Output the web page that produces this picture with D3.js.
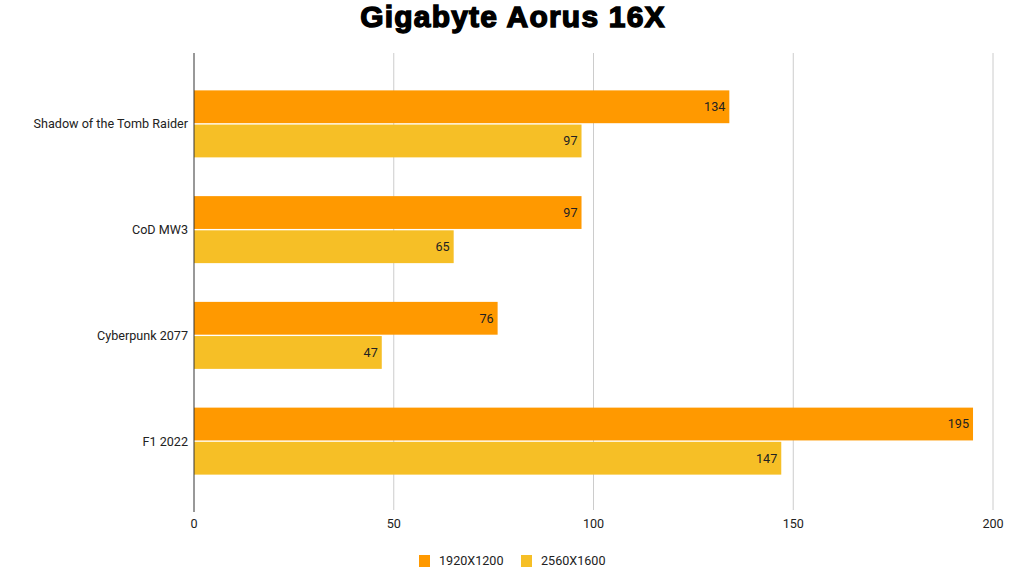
<!DOCTYPE html>
<html>
<head>
<meta charset="utf-8">
<script src="https://cdn.jsdelivr.net/npm/d3@7"></script>
<style>
  html, body { margin: 0; padding: 0; background: #fff; }
  svg { display: block; font-family: Roboto, "Liberation Sans", Arial, sans-serif; }
</style>
</head>
<body>
<div id="chart"></div>
<script>
// Gigabyte Aorus 16X — fps per game at two resolutions
const games = ['Shadow of the Tomb Raider', 'CoD MW3', 'Cyberpunk 2077', 'F1 2022'];
const series = ['1920X1200', '2560X1600'];
const fps1200 = [134, 97, 76, 195];
const fps1600 = [97, 65, 47, 147];
const xTicks = [0, 50, 100, 150, 200];
const colors = ['#FF9900', '#F6BF26'];

const width = 1024, height = 576;
const margin = { top: 53, right: 31, bottom: 68, left: 194 };
const fs = 12.6;

const svg = d3.select('#chart').append('svg')
  .attr('width', width)
  .attr('height', height);

// Title (heavy face emulated with a stroke)
svg.append('text')
  .attr('x', width / 2 + 1)
  .attr('y', 27)
  .attr('text-anchor', 'middle')
  .attr('font-family', '"Liberation Sans", Arial, sans-serif')
  .attr('font-weight', 'bold')
  .attr('font-size', 30)
  .attr('letter-spacing', 1.2)
  .attr('fill', '#000')
  .attr('stroke', '#000')
  .attr('stroke-width', 1.4)
  .text('Gigabyte Aorus 16X');

const x = d3.scaleLinear()
  .domain([0, 200])
  .range([margin.left, width - margin.right]);

const y = d3.scaleBand()
  .domain(games)
  .range([71, 494]);

const sub = d3.scaleBand()
  .domain(series)
  .range([0, 67])
  .paddingInner(0.04);

const plotBottom = height - margin.bottom + 2;

// Gridlines
svg.append('g')
  .selectAll('line')
  .data(xTicks.slice(1))
  .join('line')
  .attr('x1', d => x(d)).attr('x2', d => x(d))
  .attr('y1', margin.top).attr('y2', plotBottom)
  .attr('stroke', '#cccccc')
  .attr('stroke-width', 1);

// Tick labels
svg.append('g')
  .selectAll('text')
  .data(xTicks)
  .join('text')
  .attr('x', d => x(d))
  .attr('y', 528)
  .attr('text-anchor', 'middle')
  .attr('font-size', fs)
  .attr('fill', '#222')
  .text(d => d);

// Bars
const rows = games.map((g, i) => ({ game: g, values: [fps1200[i], fps1600[i]] }));

const groups = svg.append('g')
  .selectAll('g')
  .data(rows)
  .join('g')
  .attr('transform', d => `translate(0,${y(d.game) + (y.bandwidth() - 67) / 2})`);

groups.selectAll('rect')
  .data(d => d.values.map((v, j) => ({ key: series[j], v, j })))
  .join('rect')
  .attr('x', x(0))
  .attr('y', d => sub(d.key))
  .attr('width', d => x(d.v) - x(0))
  .attr('height', sub.bandwidth())
  .attr('fill', d => colors[d.j]);

groups.selectAll('text.val')
  .data(d => d.values.map((v, j) => ({ key: series[j], v, j })))
  .join('text')
  .attr('class', 'val')
  .attr('x', d => x(d.v) - 4)
  .attr('y', d => sub(d.key) + sub.bandwidth() / 2)
  .attr('dy', '0.35em')
  .attr('text-anchor', 'end')
  .attr('font-size', fs)
  .attr('fill', '#222')
  .text(d => d.v);

// Category labels
svg.append('g')
  .selectAll('text')
  .data(games)
  .join('text')
  .attr('x', margin.left - 6)
  .attr('y', d => y(d) + y.bandwidth() / 2)
  .attr('dy', '0.35em')
  .attr('text-anchor', 'end')
  .attr('font-size', fs)
  .attr('fill', '#222')
  .text(d => d);

// Baseline
svg.append('line')
  .attr('x1', x(0)).attr('x2', x(0))
  .attr('y1', margin.top).attr('y2', plotBottom + 2)
  .attr('stroke', '#333')
  .attr('stroke-width', 1);

// Legend
const legend = svg.append('g').attr('transform', 'translate(0,561)');
const legendItems = [
  { label: series[0], color: colors[0], x: 419 },
  { label: series[1], color: colors[1], x: 521 }
];
legendItems.forEach(it => {
  legend.append('rect')
    .attr('x', it.x).attr('y', -6)
    .attr('width', 11).attr('height', 12)
    .attr('fill', it.color);
  legend.append('text')
    .attr('x', it.x + 20)
    .attr('y', 0)
    .attr('dy', '0.35em')
    .attr('font-size', fs)
    .attr('fill', '#222')
    .text(it.label);
});
</script>
</body>
</html>
